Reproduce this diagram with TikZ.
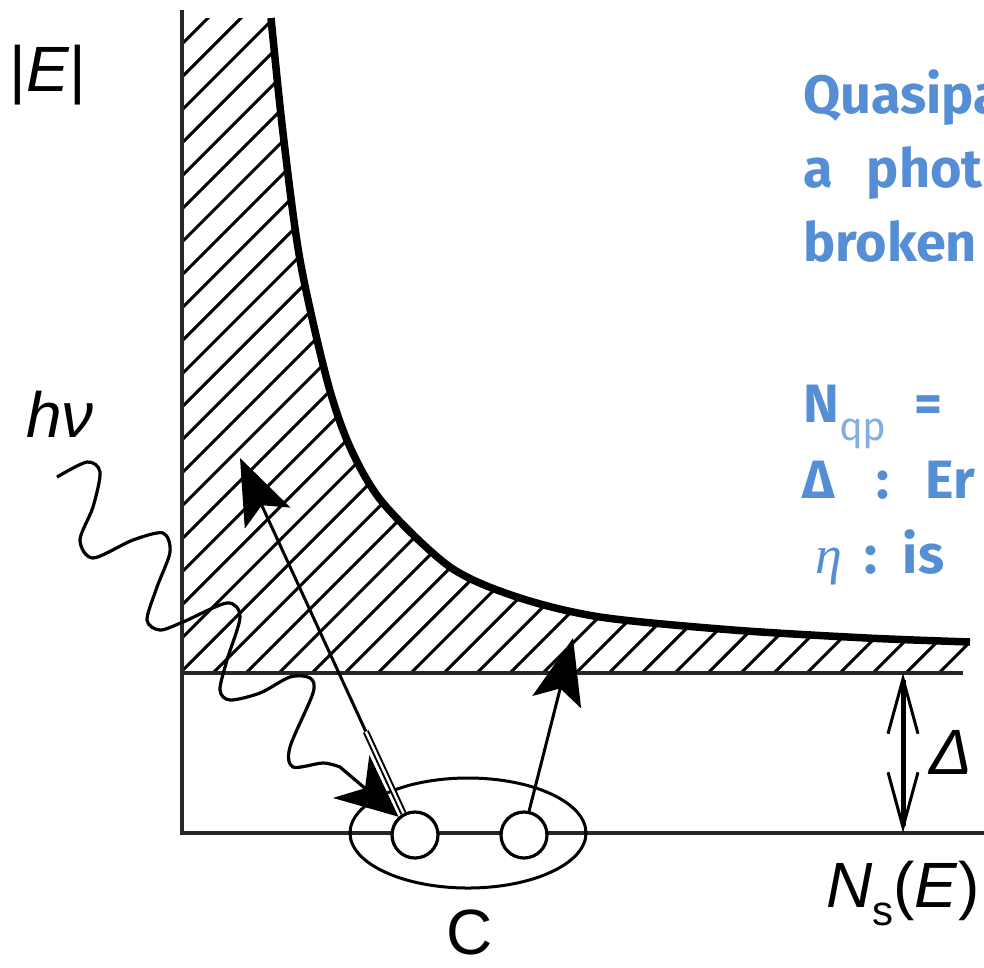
\documentclass[tikz,border=0pt]{standalone}
\usepackage{fontspec}
\setmainfont{Liberation Sans}
\newfontfamily\notefont{Fira Sans}
\newfontfamily\etafont{Liberation Serif}
\usetikzlibrary{arrows.meta, positioning, calc}
\definecolor{noteblue}{HTML}{558ED5}
\definecolor{notelight}{HTML}{82AEE2}

\begin{document}
\begin{tikzpicture}[
  x=1pt, y=-1pt,
  axis/.style={line width=3.8pt, draw=black!85},
  hatch/.style={line width=3pt},
  dos/.style={line width=7.5pt},
  pair/.style={circle, draw, fill=white, line width=3.2pt, minimum size=46pt, inner sep=0pt},
  elec/.style={line width=3pt, -{Stealth[length=66pt, width=50pt, inset=14pt]}},
  lbl/.style={font=\fontsize{64}{70}\selectfont, inner sep=0pt},
  note/.style={font=\notefont\bfseries\fontsize{54}{60}\selectfont, text=noteblue,
               inner sep=0pt, anchor=base west}
]
\useasboundingbox (0,0) rectangle (984,967);

% hatched states above the gap
\begin{scope}
  \clip (182,18) -- plot[smooth] coordinates {(271,18) (283,133) (300,260) (327,380)
    (350,447) (383,503) (450,567) (517,597) (600,617) (733,630) (867,638) (968,642)}
    -- (968,673) -- (182,673) -- cycle;
  \foreach \a in {-540,-507,...,980}
    \draw[hatch] (\a,700) -- ++(700,-700);
\end{scope}

% density of states
\draw[dos] plot[smooth] coordinates {(271,18) (283,133) (300,260) (327,380)
    (350,447) (383,503) (450,567) (517,597) (600,617) (733,630) (867,638) (970,642)};

% axes and gap edge
\draw[axis] (182,10) -- (182,833) -- (984,833);
\draw[axis] (182,673) -- (963,673);

% Cooper pair
\draw[line width=3pt] (468,833) ellipse [x radius=118, y radius=55];
\node[pair] (pairL) at (415,835) {};
\node[pair] (pairR) at (524,835) {};
\node[lbl] (labC) at (470,932) {C};

\coordinate (tipL) at (240,458);
\coordinate (tipR) at (573,638);

% photon
\draw[line width=3.2pt, -{Stealth[length=62pt, width=56pt, inset=18pt]}]
  plot[smooth] coordinates {(57,477) (87,462) (100,472) (93,507) (80,540) (93,558)
    (133,540) (163,533) (170,552) (157,587) (147,620) (160,630) (183,622) (227,603)
    (240,617) (227,660) (220,690) (230,700) (260,693) (290,677) (310,678) (313,693)
    (290,747) (293,767) (323,763) (340,767)} -- (pairL.132);

% broken pair: two quasiparticles
\draw[elec] (pairL.118) -- (tipL);
\draw[double=white, double distance=2.4pt, line width=2pt]
  (pairL.118) -- ($(pairL.118)!0.23!(tipL)$);
\draw[elec] (pairR.78) -- (tipR);

% gap
\coordinate (gapTop) at (903,673);
\coordinate (gapBot) at (903,833);
\coordinate (gapMid) at (903,752);
\draw[line width=5pt, {Straight Barb[length=55pt, width=30pt, line width=3pt]}-{Straight Barb[length=55pt, width=30pt, line width=3pt]}]
  (gapTop) -- (gapBot);
\node[lbl, right=26pt of gapMid] (labGap) {\textit{Δ}};

% axis labels
\node[lbl] (labE) at (48,75) {|\textit{E}|};
\node[lbl] (labPh) at (60,414) {\textit{hν}};
\node[lbl] (labN) at (903,893) {\textit{N}\raisebox{-18pt}{\fontsize{42}{44}\selectfont s}(\textit{E})};

% notes
\begin{scope}
  \clip (0,0) rectangle (984,967);
  \node[note] (noteA) at (803,113) {Quasipa};
  \node[note] (noteB) at (803,187) {a\hspace{34pt}phot};
  \node[note] (noteC) at (803,261) {broken};
  \node[note] (noteD) at (803,422) {N\raisebox{-18pt}{\color{notelight}\mdseries\fontsize{40}{42}\selectfont qp}\hspace{28pt}=};
  \node[note] (noteE) at (802,498) {Δ\hspace{42pt}:\hspace{36pt}Er};
  \node[note] (noteF) at (815,573) {{\etafont\mdseries\itshape η}\hspace{22pt}:\hspace{26pt}is};
\end{scope}
\end{tikzpicture}
\end{document}
